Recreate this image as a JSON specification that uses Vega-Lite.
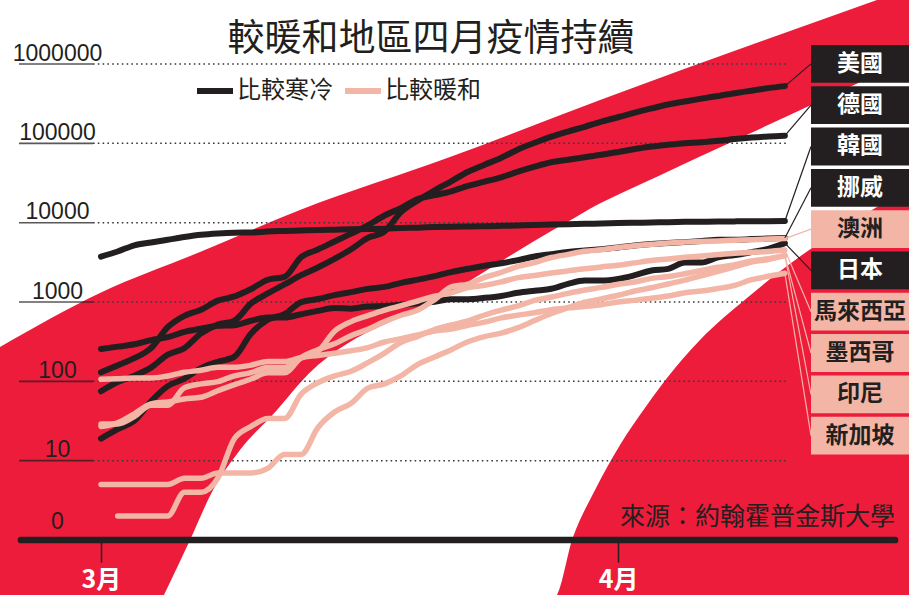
{
  "$schema": "https://vega.github.io/schema/vega-lite/v6.json",
  "width": 768,
  "height": 540,
  "autosize": {"type": "none"},
  "padding": {"left": 19, "top": 0, "right": 122, "bottom": 55},
  "background": "#ed1c3b",
  "config": {"view": {"stroke": null}, "font": "Noto Sans CJK TC"},
  "title": {
    "text": "較暖和地區四月疫情持續",
    "anchor": "middle",
    "frame": "group",
    "orient": "top",
    "offset": -88,
    "baseline": "alphabetic",
    "dx": 28,
    "fontSize": 37,
    "fontWeight": "normal",
    "font": "Noto Sans CJK TC",
    "color": "#231f20"
  },
  "datasets": {
    "cases": [
      {"day": 0, "美國": 75, "德國": 130, "韓國": 3736, "挪威": 19, "日本": 256, "澳洲": 27, "馬來西亞": 29, "墨西哥": 5, "新加坡": 106},
      {"day": 1, "美國": 98, "德國": 159, "韓國": 4335, "挪威": 25, "日本": 274, "澳洲": 30, "馬來西亞": 29, "墨西哥": 5, "印尼": 2, "新加坡": 108},
      {"day": 2, "美國": 118, "德國": 196, "韓國": 5186, "挪威": 32, "日本": 293, "澳洲": 39, "馬來西亞": 36, "墨西哥": 5, "印尼": 2, "新加坡": 110},
      {"day": 3, "美國": 149, "德國": 262, "韓國": 5621, "挪威": 56, "日本": 331, "澳洲": 52, "馬來西亞": 50, "墨西哥": 5, "印尼": 2, "新加坡": 110},
      {"day": 4, "美國": 217, "德國": 482, "韓國": 6088, "挪威": 87, "日本": 360, "澳洲": 55, "馬來西亞": 50, "墨西哥": 5, "印尼": 2, "新加坡": 117},
      {"day": 5, "美國": 262, "德國": 670, "韓國": 6593, "挪威": 108, "日本": 420, "澳洲": 60, "馬來西亞": 83, "墨西哥": 6, "印尼": 4, "新加坡": 130},
      {"day": 6, "美國": 402, "德國": 799, "韓國": 7041, "挪威": 147, "日本": 461, "澳洲": 63, "馬來西亞": 93, "墨西哥": 6, "印尼": 4, "新加坡": 138},
      {"day": 7, "美國": 518, "德國": 1040, "韓國": 7314, "挪威": 176, "日本": 502, "澳洲": 76, "馬來西亞": 99, "墨西哥": 7, "印尼": 6, "新加坡": 150},
      {"day": 8, "美國": 583, "德國": 1176, "韓國": 7478, "挪威": 205, "日本": 511, "澳洲": 91, "馬來西亞": 117, "墨西哥": 7, "印尼": 19, "新加坡": 150},
      {"day": 9, "美國": 959, "德國": 1457, "韓國": 7513, "挪威": 400, "日本": 581, "澳洲": 107, "馬來西亞": 129, "墨西哥": 7, "印尼": 27, "新加坡": 160},
      {"day": 10, "美國": 1281, "德國": 1908, "韓國": 7755, "挪威": 598, "日本": 639, "澳洲": 128, "馬來西亞": 149, "墨西哥": 8, "印尼": 34, "新加坡": 178},
      {"day": 11, "美國": 1663, "德國": 2078, "韓國": 7869, "挪威": 702, "日本": 639, "澳洲": 128, "馬來西亞": 149, "墨西哥": 12, "印尼": 34, "新加坡": 178},
      {"day": 12, "美國": 2179, "德國": 3675, "韓國": 7979, "挪威": 996, "日本": 701, "澳洲": 200, "馬來西亞": 197, "墨西哥": 12, "印尼": 69, "新加坡": 200},
      {"day": 13, "美國": 2727, "德國": 4585, "韓國": 8086, "挪威": 1090, "日本": 773, "澳洲": 250, "馬來西亞": 238, "墨西哥": 26, "印尼": 96, "新加坡": 212},
      {"day": 14, "美國": 3499, "德國": 5795, "韓國": 8162, "挪威": 1221, "日本": 839, "澳洲": 297, "馬來西亞": 428, "墨西哥": 41, "印尼": 117, "新加坡": 226},
      {"day": 15, "美國": 4632, "德國": 7272, "韓國": 8236, "挪威": 1333, "日本": 825, "澳洲": 377, "馬來西亞": 566, "墨西哥": 53, "印尼": 134, "新加坡": 243},
      {"day": 16, "美國": 6421, "德國": 9257, "韓國": 8320, "挪威": 1463, "日本": 878, "澳洲": 452, "馬來西亞": 673, "墨西哥": 82, "印尼": 172, "新加坡": 266},
      {"day": 17, "美國": 7786, "德國": 12327, "韓國": 8413, "挪威": 1550, "日本": 889, "澳洲": 568, "馬來西亞": 790, "墨西哥": 93, "印尼": 227, "新加坡": 313},
      {"day": 18, "美國": 13680, "德國": 15320, "韓國": 8565, "挪威": 1746, "日本": 924, "澳洲": 681, "馬來西亞": 900, "墨西哥": 118, "印尼": 311, "新加坡": 345},
      {"day": 19, "美國": 19101, "德國": 19848, "韓國": 8652, "挪威": 1914, "日本": 963, "澳洲": 791, "馬來西亞": 1030, "墨西哥": 164, "印尼": 369, "新加坡": 385},
      {"day": 20, "美國": 25493, "德國": 22213, "韓國": 8799, "挪威": 2118, "日本": 1007, "澳洲": 1071, "馬來西亞": 1183, "墨西哥": 203, "印尼": 450, "新加坡": 432},
      {"day": 21, "美國": 33276, "德國": 24873, "韓國": 8897, "挪威": 2385, "日本": 1086, "澳洲": 1549, "馬來西亞": 1306, "墨西哥": 251, "印尼": 514, "新加坡": 455},
      {"day": 22, "美國": 43847, "德國": 29056, "韓國": 8961, "挪威": 2621, "日本": 1086, "澳洲": 1682, "馬來西亞": 1518, "墨西哥": 316, "印尼": 579, "新加坡": 509},
      {"day": 23, "美國": 53740, "德國": 32986, "韓國": 9037, "挪威": 2863, "日本": 1128, "澳洲": 2044, "馬來西亞": 1624, "墨西哥": 367, "印尼": 686, "新加坡": 558},
      {"day": 24, "美國": 65778, "德國": 37323, "韓國": 9137, "挪威": 3084, "日本": 1193, "澳洲": 2364, "馬來西亞": 1796, "墨西哥": 405, "印尼": 790, "新加坡": 631},
      {"day": 25, "美國": 83836, "德國": 43938, "韓國": 9241, "挪威": 3369, "日本": 1307, "澳洲": 2810, "馬來西亞": 2031, "墨西哥": 475, "印尼": 893, "新加坡": 683},
      {"day": 26, "美國": 101657, "德國": 50871, "韓國": 9332, "挪威": 3755, "日本": 1387, "澳洲": 3143, "馬來西亞": 2161, "墨西哥": 585, "印尼": 1046, "新加坡": 732},
      {"day": 27, "美國": 121478, "德國": 57695, "韓國": 9478, "挪威": 4015, "日本": 1468, "澳洲": 3640, "馬來西亞": 2320, "墨西哥": 717, "印尼": 1155, "新加坡": 802},
      {"day": 28, "美國": 140886, "德國": 62095, "韓國": 9583, "挪威": 4284, "日本": 1693, "澳洲": 3984, "馬來西亞": 2470, "墨西哥": 848, "印尼": 1285, "新加坡": 844},
      {"day": 29, "美國": 161807, "德國": 66885, "韓國": 9661, "挪威": 4445, "日本": 1866, "澳洲": 4361, "馬來西亞": 2626, "墨西哥": 993, "印尼": 1414, "新加坡": 879},
      {"day": 30, "美國": 188172, "德國": 71808, "韓國": 9786, "挪威": 4641, "日本": 1866, "澳洲": 4559, "馬來西亞": 2766, "墨西哥": 1094, "印尼": 1528, "新加坡": 926},
      {"day": 31, "美國": 213372, "德國": 77872, "韓國": 9887, "挪威": 4863, "日本": 1953, "澳洲": 4862, "馬來西亞": 2908, "墨西哥": 1215, "印尼": 1677, "新加坡": 1000},
      {"day": 32, "美國": 243762, "德國": 84794, "韓國": 9976, "挪威": 5147, "日本": 2178, "澳洲": 5116, "馬來西亞": 3116, "墨西哥": 1378, "印尼": 1790, "新加坡": 1049},
      {"day": 33, "美國": 275586, "德國": 91159, "韓國": 10062, "挪威": 5370, "日本": 2495, "澳洲": 5330, "馬來西亞": 3333, "墨西哥": 1510, "印尼": 1986, "新加坡": 1114},
      {"day": 34, "美國": 308853, "德國": 96092, "韓國": 10156, "挪威": 5550, "日本": 2617, "澳洲": 5548, "馬來西亞": 3483, "墨西哥": 1688, "印尼": 2092, "新加坡": 1189},
      {"day": 35, "美國": 337072, "德國": 100123, "韓國": 10237, "挪威": 5687, "日本": 3139, "澳洲": 5687, "馬來西亞": 3662, "墨西哥": 1890, "印尼": 2273, "新加坡": 1309},
      {"day": 36, "美國": 366667, "德國": 103374, "韓國": 10284, "挪威": 5865, "日本": 3139, "澳洲": 5797, "馬來西亞": 3793, "墨西哥": 2143, "印尼": 2491, "新加坡": 1375},
      {"day": 37, "美國": 396223, "德國": 107663, "韓國": 10331, "挪威": 6086, "日本": 3654, "澳洲": 5895, "馬來西亞": 3963, "墨西哥": 2439, "印尼": 2738, "新加坡": 1481},
      {"day": 38, "美國": 429052, "德國": 113296, "韓國": 10384, "挪威": 6086, "日本": 3906, "澳洲": 6010, "馬來西亞": 4119, "墨西哥": 2785, "印尼": 2956, "新加坡": 1623},
      {"day": 39, "美國": 461437, "德國": 118181, "韓國": 10423, "挪威": 6211, "日本": 4257, "澳洲": 6108, "馬來西亞": 4228, "墨西哥": 3181, "印尼": 3293, "新加坡": 1910},
      {"day": 40, "美國": 496535, "德國": 122171, "韓國": 10450, "挪威": 6314, "日本": 4667, "澳洲": 6215, "馬來西亞": 4346, "墨西哥": 3441, "印尼": 3512, "新加坡": 2108},
      {"day": 41, "美國": 526396, "德國": 124908, "韓國": 10480, "挪威": 6409, "日本": 5530, "澳洲": 6303, "馬來西亞": 4530, "墨西哥": 3844, "印尼": 3842, "新加坡": 2299}
    ],
    "countries": [
      {"country": "美國", "group": "比較寒冷"},
      {"country": "德國", "group": "比較寒冷"},
      {"country": "韓國", "group": "比較寒冷"},
      {"country": "挪威", "group": "比較寒冷"},
      {"country": "日本", "group": "比較寒冷"},
      {"country": "澳洲", "group": "比較暖和"},
      {"country": "馬來西亞", "group": "比較暖和"},
      {"country": "墨西哥", "group": "比較暖和"},
      {"country": "印尼", "group": "比較暖和"},
      {"country": "新加坡", "group": "比較暖和"}
    ],
    "ticks": [{"v": 10}, {"v": 100}, {"v": 1000}, {"v": 10000}, {"v": 100000}, {"v": 1000000}],
    "whiteTop": [
      {"day": -6.175, "edge": 263},
      {"day": -0.06, "edge": 1300},
      {"day": 5.935, "edge": 4270},
      {"day": 11.93, "edge": 14450},
      {"day": 20.92, "edge": 67300},
      {"day": 29.92, "edge": 351600},
      {"day": 46.52, "edge": 6412000}
    ],
    "whiteBand": [
      {"day": 3.717, "upper": 0.1912, "lower": 0.1753},
      {"day": 5.336, "upper": 1, "lower": 0.1753},
      {"day": 6.715, "upper": 4.27, "lower": 0.1753},
      {"day": 8.333, "upper": 13.63, "lower": 0.1753},
      {"day": 10.552, "upper": 43.5, "lower": 0.1753},
      {"day": 11.93, "upper": 95.3, "lower": 0.1753},
      {"day": 20.923, "upper": 1299, "lower": 0.1753},
      {"day": 27.2, "upper": 8300, "lower": 0.1912},
      {"day": 28.3, "upper": 11200, "lower": 1.091},
      {"day": 29.616, "upper": 16230, "lower": 4.27},
      {"day": 31.115, "upper": 23200, "lower": 15.76},
      {"day": 32.734, "upper": 33340, "lower": 50.3},
      {"day": 33.933, "upper": 43660, "lower": 110.2},
      {"day": 35.911, "upper": 68080, "lower": 331.9},
      {"day": 38.729, "upper": 128200, "lower": 1123},
      {"day": 41.127, "upper": 219300, "lower": 2843},
      {"day": 46.523, "upper": 742000, "lower": 15760},
      {"day": 48.621, "upper": 1191000, "lower": 27360}
    ]
  },
  "layer": [
    {
      "data": {"name": "whiteTop"},
      "mark": {"type": "area", "color": "white", "interpolate": "monotone"},
      "encoding": {
        "x": {
          "field": "day", "type": "quantitative", "title": null,
          "scale": {"domain": [-4.916, 41.127], "nice": false, "zero": false},
          "axis": {
            "values": [0, 31],
            "labelExpr": "datum.value == 0 ? '3月' : '4月'",
            "domain": false, "grid": false, "ticks": true,
            "tickSize": 22, "tickColor": "#231f20", "tickWidth": 1.5,
            "labelColor": "white", "labelFontSize": 25, "labelFontWeight": "bold",
            "labelFont": "Noto Sans CJK TC", "labelPadding": 25, "labelBaseline": "alphabetic",
            "labelFlush": false, "labelOverlap": false, "title": null, "zindex": 1
          }
        },
        "y": {
          "field": "edge", "type": "quantitative", "title": null,
          "scale": {"type": "log", "domain": [1, 6412000], "nice": false},
          "axis": {
            "values": [1, 10, 100, 1000, 10000, 100000, 1000000],
            "labelExpr": "datum.value == 1 ? '0' : format(datum.value, 'd')",
            "domain": false, "grid": false, "ticks": false,
            "labelAlign": "center", "labelPadding": -38, "labelBaseline": "alphabetic",
            "labelOffset": {"condition": {"test": "datum.value == 1", "value": -12}, "value": -4},
            "labelFontSize": 23, "labelFont": "Liberation Sans", "labelColor": "#231f20",
            "labelOverlap": false, "labelBound": false, "title": null, "zindex": 1
          }
        },
        "y2": {"datum": 6412000}
      }
    },
    {
      "data": {"name": "whiteBand"},
      "mark": {"type": "area", "color": "white", "interpolate": "monotone"},
      "encoding": {
        "x": {"field": "day", "type": "quantitative", "title": null},
        "y": {"field": "upper", "type": "quantitative", "title": null},
        "y2": {"field": "lower"}
      }
    },
    {
      "data": {"name": "ticks"},
      "mark": {"type": "rule", "color": "#3a3a3a", "strokeWidth": 1.5, "strokeDash": [1.6, 3.2]},
      "encoding": {
        "x": {"datum": -0.48},
        "x2": {"datum": 41.127},
        "y": {"field": "v", "type": "quantitative", "title": null}
      }
    },
    {
      "data": {"name": "ticks"},
      "mark": {"type": "rule", "color": "#231f20", "strokeWidth": 1.6, "opacity": 0.75},
      "encoding": {
        "x": {"datum": -4.916},
        "x2": {"datum": -0.48},
        "y": {"field": "v", "type": "quantitative", "title": null}
      }
    },
    {
      "data": {"values": [{"base": 1}]},
      "mark": {"type": "rule", "color": "#231f20", "strokeWidth": 6.7, "strokeCap": "round"},
      "encoding": {
        "x": {"datum": -4.796},
        "x2": {"datum": 47.6},
        "y": {"field": "base", "type": "quantitative", "title": null}
      }
    },
    {
      "data": {"name": "cases"},
      "transform": [
        {"fold": ["美國", "德國", "韓國", "挪威", "日本", "澳洲", "馬來西亞", "墨西哥", "印尼", "新加坡"], "as": ["country", "value"]},
        {"filter": "isValid(datum.value)"},
        {"lookup": "country", "from": {"data": {"name": "countries"}, "key": "country", "fields": ["group"]}}
      ],
      "layer": [
        {
          "transform": [{"filter": "datum.group == '比較寒冷'"}],
          "mark": {"type": "line", "strokeWidth": 6, "interpolate": "monotone", "strokeCap": "round", "strokeJoin": "round"},
          "encoding": {
            "x": {"field": "day", "type": "quantitative", "title": null},
            "y": {"field": "value", "type": "quantitative", "title": null},
            "color": {
              "field": "group", "type": "nominal",
              "scale": {"domain": ["比較寒冷", "比較暖和"], "range": ["#231f20", "#f3b5a5"]},
              "legend": {
                "orient": "none", "legendX": 175, "legendY": 70, "direction": "horizontal",
                "title": null, "symbolType": "stroke", "symbolSize": 1296, "symbolStrokeWidth": 6,
                "labelFontSize": 24, "labelFont": "Noto Sans CJK TC", "labelColor": "#231f20",
                "columnPadding": 0, "labelOffset": 1, "padding": 0, "labelLimit": 0
              }
            },
            "detail": {"field": "country"}
          }
        },
        {
          "transform": [{"filter": "datum.group == '比較暖和'"}],
          "mark": {"type": "line", "strokeWidth": 5.5, "interpolate": "monotone", "strokeCap": "round", "strokeJoin": "round"},
          "encoding": {
            "x": {"field": "day", "type": "quantitative", "title": null},
            "y": {"field": "value", "type": "quantitative", "title": null},
            "color": {"field": "group", "type": "nominal"},
            "detail": {"field": "country"}
          }
        },
        {
          "transform": [
            {"filter": "datum.day == 41"},
            {"window": [{"op": "row_number", "as": "rank"}], "sort": [{"field": "value", "order": "descending"}]},
            {"calculate": "pow(10, 6.0016 - 0.52061 * (datum.rank - 1))", "as": "mid"},
            {"calculate": "pow(10, 6.2398 - 0.52061 * (datum.rank - 1))", "as": "top"},
            {"calculate": "pow(10, 5.7633 - 0.52061 * (datum.rank - 1))", "as": "bottom"}
          ],
          "layer": [
            {
              "mark": {"type": "rule", "strokeWidth": 1.2},
              "encoding": {
                "x": {"field": "day", "type": "quantitative", "title": null},
                "y": {"field": "value", "type": "quantitative", "title": null},
                "x2": {"datum": 42.566},
                "y2": {"field": "mid"},
                "stroke": {
                  "field": "group", "type": "nominal",
                  "scale": {"domain": ["比較寒冷", "比較暖和"], "range": ["#231f20", "#f3b5a5"]},
                  "legend": null
                }
              }
            },
            {
              "mark": {"type": "rect"},
              "encoding": {
                "x": {"datum": 42.566},
                "x2": {"datum": 48.7},
                "y": {"field": "top", "type": "quantitative", "title": null},
                "y2": {"field": "bottom"},
                "fill": {
                  "field": "group", "type": "nominal",
                  "scale": {"domain": ["比較寒冷", "比較暖和"], "range": ["#231f20", "#f3b5a5"]},
                  "legend": null
                }
              }
            },
            {
              "mark": {"type": "text", "fontSize": 23, "fontWeight": "bold", "font": "Noto Sans CJK TC", "align": "center", "baseline": "middle"},
              "encoding": {
                "x": {"datum": 45.5},
                "y": {"field": "mid", "type": "quantitative", "title": null},
                "text": {"field": "country"},
                "color": {"condition": {"test": "datum.group == '比較寒冷'", "value": "white"}, "value": "#231f20"}
              }
            }
          ]
        }
      ]
    },
    {
      "data": {"values": [{"source": "來源：約翰霍普金斯大學", "anchor": 1.55}]},
      "mark": {"type": "text", "align": "right", "baseline": "alphabetic", "fontSize": 25, "font": "Noto Sans CJK TC", "color": "#231f20"},
      "encoding": {
        "x": {"datum": 47.6},
        "y": {"field": "anchor", "type": "quantitative", "title": null},
        "text": {"field": "source"}
      }
    }
  ]
}
